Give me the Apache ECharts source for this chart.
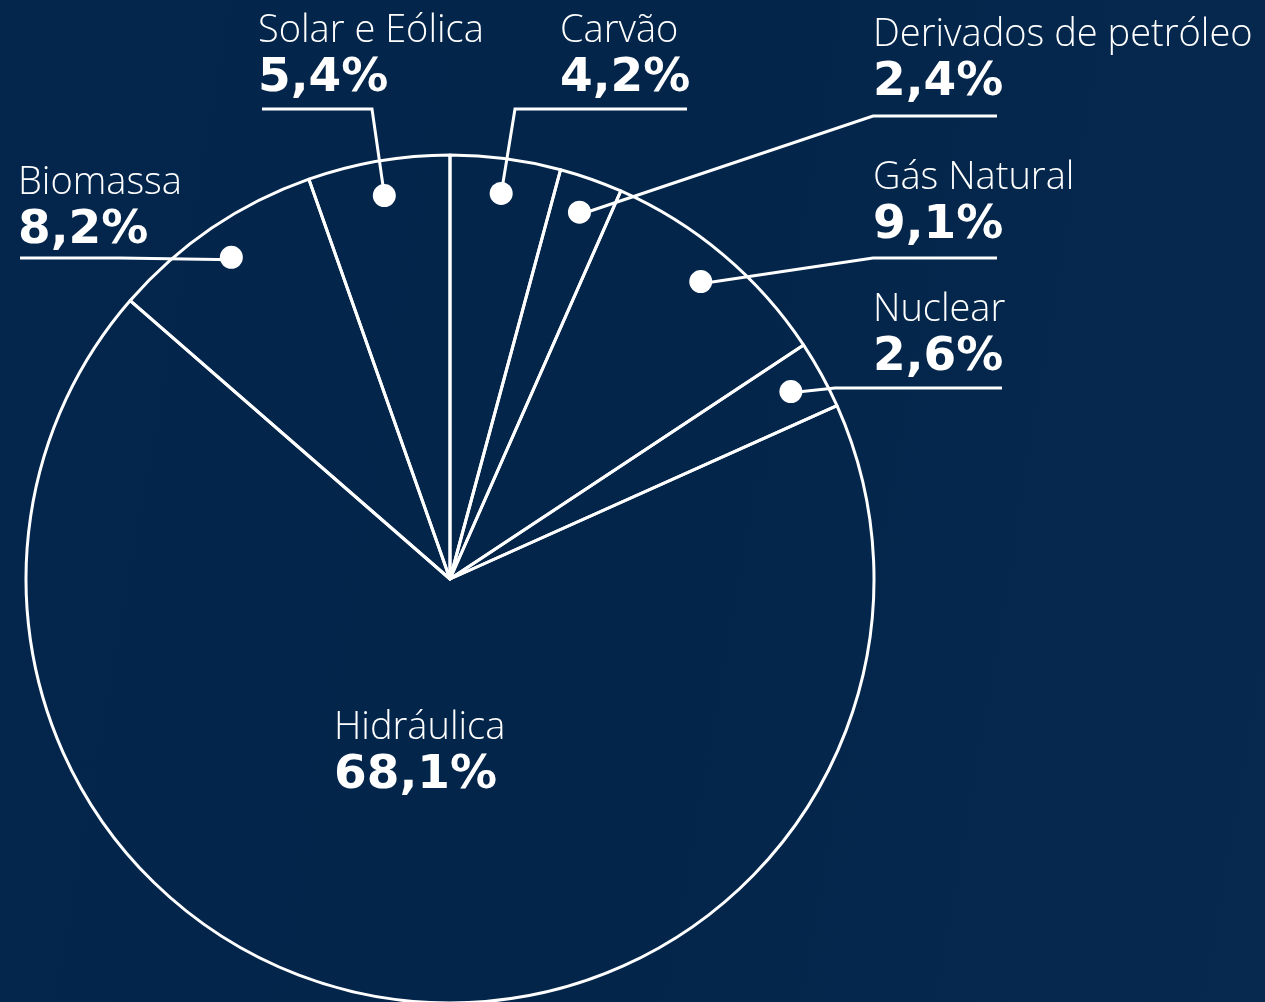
<!DOCTYPE html>
<html>
<head>
<meta charset="utf-8">
<style>
  html, body { margin: 0; padding: 0; }
  body {
    width: 1265px; height: 1002px; overflow: hidden;
    background: linear-gradient(100deg, #04264c 0%, #03254a 50%, #07294f 100%);
  }
  #chart { width: 1265px; height: 1002px; }
</style>
<script src="https://cdn.jsdelivr.net/npm/echarts@6/dist/echarts.min.js"></script>
</head>
<body>
<div id="chart"></div>
<script>
// matriz elétrica - participação por fonte (%)
var fontes = ['Carvão', 'Derivados de petróleo', 'Gás Natural', 'Nuclear', 'Hidráulica', 'Biomassa', 'Solar e Eólica'];
var valores = [4.2, 2.4, 9.1, 2.6, 68.1, 8.2, 5.4];
var rotulos = ['4,2%', '2,4%', '9,1%', '2,6%', '68,1%', '8,2%', '5,4%'];

// posição dos rótulos (x, y do texto) e dobra/fim da linha guia
var layoutRotulos = {
  'Carvão':                { x: 560, y: 8,   bend: [515, 109], end: [687, 109] },
  'Derivados de petróleo': { x: 873, y: 12,  bend: [873, 116], end: [997, 116] },
  'Gás Natural':           { x: 873, y: 155, bend: [873, 258], end: [997, 258] },
  'Nuclear':               { x: 873, y: 287, bend: [835, 388], end: [1002, 388] },
  'Hidráulica':            { x: 334, y: 705 },
  'Biomassa':              { x: 18,  y: 160, bend: [120, 258], end: [20, 258] },
  'Solar e Eólica':        { x: 258, y: 8,   bend: [372, 109], end: [262, 109] }
};

var centro = [450, 579];
var raio = 424;
var raioPonto = 386;

var total = valores.reduce(function (a, b) { return a + b; }, 0);
function pontoMedio(i) {
  var acum = 0;
  for (var k = 0; k < i; k++) acum += valores[k];
  var ang = (90 - 360 * (acum + valores[i] / 2) / total) * Math.PI / 180;
  return [centro[0] + raioPonto * Math.cos(ang), centro[1] - raioPonto * Math.sin(ang)];
}

var chart = echarts.init(document.getElementById('chart'));

var dados = fontes.map(function (f, i) {
  var item = { name: f, value: valores[i] };
  if (f === 'Hidráulica') item.labelLine = { show: false };
  return item;
});

var pontos = fontes.map(function (f, i) {
  var item = { name: f, value: valores[i] };
  if (f === 'Hidráulica') item.label = { show: false };
  return item;
});

var option = {
  backgroundColor: 'transparent',
  animation: false,
  series: [
    {
      type: 'pie',
      center: centro,
      radius: [0, raio],
      startAngle: 90,
      clockwise: true,
      silent: true,
      avoidLabelOverlap: false,
      data: dados,
      itemStyle: {
        color: 'rgba(0, 0, 0, 0)',
        borderColor: '#ffffff',
        borderWidth: 3
      },
      label: {
        show: true,
        position: 'outside',
        formatter: function (p) {
          return '{n|' + p.name + '}\n{v|' + rotulos[p.dataIndex] + '}';
        },
        rich: {
          n: { fontFamily: 'Open Sans', fontWeight: 300, fontSize: 38, color: '#ffffff', lineHeight: 46 },
          v: { fontFamily: 'DejaVu Sans', fontWeight: 'bold', fontSize: 47, color: '#ffffff', lineHeight: 50 }
        }
      },
      labelLine: {
        show: true,
        lineStyle: { color: '#ffffff', width: 3 }
      },
      labelLayout: function (params) {
        var nome = fontes[params.dataIndex];
        var cfg = layoutRotulos[nome];
        var res = { x: cfg.x, y: cfg.y, align: 'left', verticalAlign: 'top' };
        if (cfg.bend) {
          res.labelLinePoints = [pontoMedio(params.dataIndex), cfg.bend, cfg.end];
        }
        return res;
      }
    },
    {
      // pontos brancos no meio de cada fatia
      type: 'pie',
      center: centro,
      radius: [raioPonto - 40, raioPonto + 40],
      startAngle: 90,
      clockwise: true,
      silent: true,
      z: 5,
      data: pontos,
      itemStyle: { color: 'rgba(0,0,0,0)', borderWidth: 0 },
      label: {
        show: true,
        position: 'inside',
        formatter: '{d| }',
        rich: {
          d: { width: 23, height: 23, borderRadius: 12, backgroundColor: '#ffffff' }
        }
      },
      labelLine: { show: false }
    }
  ]
};

chart.setOption(option);
</script>
</body>
</html>
